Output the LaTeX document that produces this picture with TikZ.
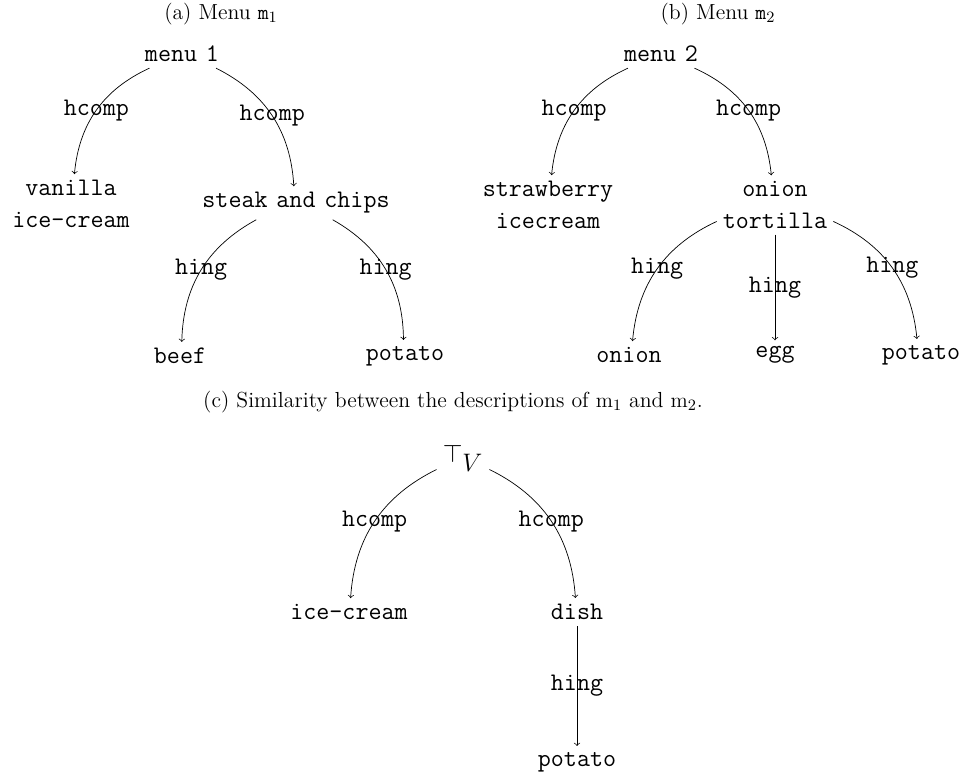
\documentclass[tikz,border=0pt]{standalone}
\newcommand{\tsp}{\hspace{0.35em}}
\begin{document}
\begin{tikzpicture}[term/.style={font=\Large\ttfamily, align=center},
    lab/.style={font=\Large\ttfamily},
    capt/.style={font=\fontsize{12.4pt}{15pt}\selectfont}]
        \useasboundingbox (0,0) rectangle (19.44,15.52);

        \node[capt] (capa) at (4.42, 15.24) {(a) Menu $\mathtt{m}_1$};
        \node[capt] (capb) at (14.36, 15.24) {(b) Menu $\mathtt{m}_2$};
        \node[capt] (capc) at (9.06, 7.48) {(c) Similarity between the descriptions of $\mathrm{m}_1$ and $\mathrm{m}_2$.};

        \node[term] (menuA) at (3.64, 14.44) {menu\tsp1};
        \node[term] (vanilla) at (1.42, 11.44) {vanilla\\ice-cream};
        \node[term] (steak) at (5.92, 11.46) {steak\tsp and\tsp chips};
        \node[term] (beef) at (3.60, 8.40) {beef};
        \node[term] (potatoA) at (8.10, 8.40) {potato};

        \node[term] (menuB) at (13.22, 14.44) {menu\tsp2};
        \node[term] (straw) at (10.96, 11.42) {strawberry\\icecream};
        \node[term] (tortilla) at (15.50, 11.42) {onion\\tortilla};
        \node[term] (onion) at (12.58, 8.42) {onion};
        \node[term] (egg) at (15.50, 8.42) {egg};
        \node[term] (potatoB) at (18.42, 8.42) {potato};

        \node[term] (top) at (9.26, 6.36) {$\top_{\textstyle V}$};
        \node[term] (icecream) at (6.98, 3.28) {ice-cream};
        \node[term] (dish) at (11.54, 3.28) {dish};
        \node[term] (potatoC) at (11.54, 0.28) {potato};

        \draw[->] (menuA) to[bend right] node[lab] {hcomp} (vanilla);
        \draw[->] (menuA) to[bend left] node[lab] {hcomp} (steak);
        \draw[->] (steak) to[bend right] node[lab] {hing} (beef);
        \draw[->] (steak) to[bend left] node[lab] {hing} (potatoA);

        \draw[->] (menuB) to[bend right] node[lab] {hcomp} (straw);
        \draw[->] (menuB) to[bend left] node[lab] {hcomp} (tortilla);
        \draw[->] (tortilla) to[bend right] node[lab] {hing} (onion);
        \draw[->] (tortilla) -- node[lab] {hing} (egg);
        \draw[->] (tortilla) to[bend left] node[lab] {hing} (potatoB);

        \draw[->] (top) to[bend right] node[lab] {hcomp} (icecream);
        \draw[->] (top) to[bend left] node[lab] {hcomp} (dish);
        \draw[->] (dish) -- node[lab] {hing} (potatoC);

    \end{tikzpicture}
\end{document}
